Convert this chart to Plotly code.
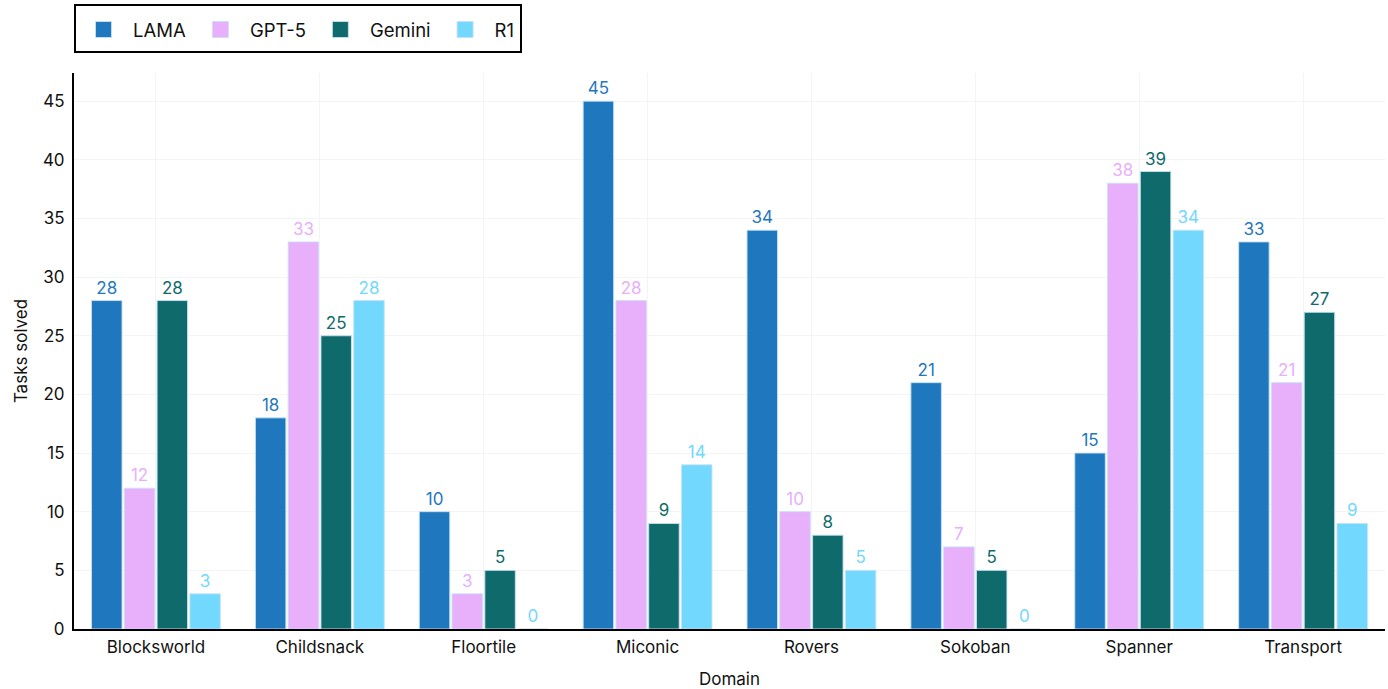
import plotly.graph_objects as go

domains = ["Blocksworld", "Childsnack", "Floortile", "Miconic", "Rovers", "Sokoban", "Spanner", "Transport"]
lama = [28, 18, 10, 45, 34, 21, 15, 33]
gpt5 = [12, 33, 3, 28, 10, 7, 38, 21]
gemini = [28, 25, 5, 9, 8, 5, 39, 27]
r1 = [3, 28, 0, 14, 5, 0, 34, 9]

series = [
    ("LAMA", lama, "#1f77bd"),
    ("GPT-5", gpt5, "#e8affb"),
    ("Gemini", gemini, "#0f6b6b"),
    ("R1", r1, "#72d8fe"),
]

font_family = "Inter, Roboto, sans-serif"
W, H = 1388, 689
ML, MR, MT, MB = 74, 3, 73, 60
PW, PH = W - ML - MR, H - MT - MB

fig = go.Figure()
for name, vals, color in series:
    fig.add_trace(go.Bar(
        name=name,
        x=domains,
        y=vals,
        showlegend=False,
        marker=dict(color=color, line=dict(color="rgba(200,225,245,0.9)", width=1)),
        text=[str(v) for v in vals],
        textposition="outside",
        textfont=dict(color=color, size=17, family=font_family),
        cliponaxis=False,
    ))

# legend entries with larger square swatches
for name, vals, color in series:
    fig.add_trace(go.Scatter(
        name=name,
        x=[domains[0]],
        y=[None],
        mode="markers",
        marker=dict(symbol="square", size=16, color=color,
                    line=dict(color="rgba(200,225,245,0.9)", width=1)),
        hoverinfo="skip",
    ))

# frame around the legend
fig.add_shape(
    type="rect", xref="paper", yref="paper",
    x0=(75 - ML) / PW, x1=(521 - ML) / PW,
    y0=(H - MB - 52) / PH, y1=(H - MB - 5) / PH,
    line=dict(color="black", width=2),
    fillcolor="rgba(0,0,0,0)",
    layer="above",
)

fig.update_layout(
    width=W,
    height=H,
    barmode="group",
    bargap=0.2,
    bargroupgap=0.07,
    plot_bgcolor="white",
    paper_bgcolor="white",
    font=dict(family=font_family, size=17, color="#111"),
    margin=dict(l=ML, r=MR, t=MT, b=MB),
    legend=dict(
        orientation="h",
        x=74 / W, y=1 - 11 / H,
        xref="container", yref="container",
        xanchor="left", yanchor="top",
        borderwidth=0,
        bgcolor="rgba(0,0,0,0)",
        font=dict(size=18.5),
        itemwidth=49,
        tracegroupgap=0,
    ),
    xaxis=dict(
        title=dict(text="Domain", font=dict(size=17), standoff=18),
        showline=True, linecolor="black", linewidth=2,
        showgrid=True, gridcolor="#f4f4f4",
        tickfont=dict(size=17),
        ticks="",
        ticklabelstandoff=2,
        automargin=False,
    ),
    yaxis=dict(
        title=dict(text="Tasks solved", font=dict(size=17), standoff=11),
        range=[0, 47.4],
        dtick=5,
        showline=True, linecolor="black", linewidth=2,
        showgrid=True, gridcolor="#f4f4f4",
        zeroline=False,
        tickfont=dict(size=17),
        ticks="",
        ticklabelstandoff=4,
        automargin=False,
    ),
)

fig.write_html("out.html")
